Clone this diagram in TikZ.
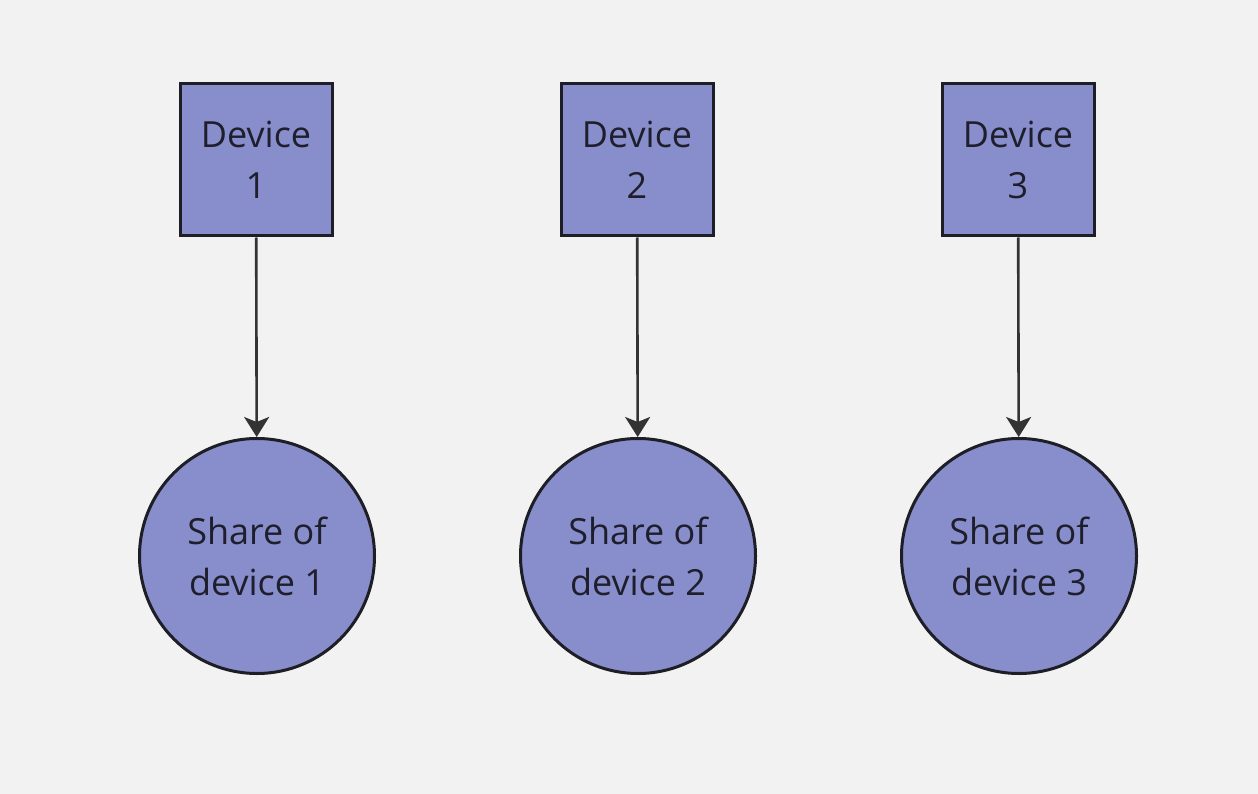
\documentclass[tikz,border=0pt]{standalone}
\usepackage{fontspec}
\setmainfont{Open Sans}
\usetikzlibrary{arrows.meta}
\definecolor{bg}{HTML}{F2F2F2}
\definecolor{nodefill}{HTML}{888ECB}
\definecolor{nodeline}{HTML}{1E1E26}
\definecolor{txt}{HTML}{1E1E2C}
\definecolor{link}{HTML}{333333}
\begin{document}
\begin{tikzpicture}[x=1pt,y=-1pt,
  devbox/.style={draw=nodeline, fill=nodefill, line width=3pt,
    minimum width=152pt, minimum height=152pt, inner sep=0pt,
    text=txt, align=center,
    font=\fontsize{36}{51}\selectfont},
  sharecirc/.style={circle, draw=nodeline, fill=nodefill, line width=3pt,
    minimum size=235pt, inner sep=0pt, text=txt, align=center,
    font=\fontsize{36}{51}\selectfont},
  flow/.style={draw=link, line width=2.6pt,
    -{Stealth[length=20pt, width=25pt, inset=5pt]}}]
  \fill[bg] (0,0) rectangle (1258,794);
  \useasboundingbox (0,0) rectangle (1258,794);
  \foreach \i/\x in {1/256, 2/637, 3/1018} {
    \node[devbox] (dev\i) at (\x,160) {Device\\\i};
    \node[sharecirc] (share\i) at (\x+1,556) {Share of\\device \i};
    \draw[flow] (dev\i) -- (share\i);
  }
\end{tikzpicture}
\end{document}
